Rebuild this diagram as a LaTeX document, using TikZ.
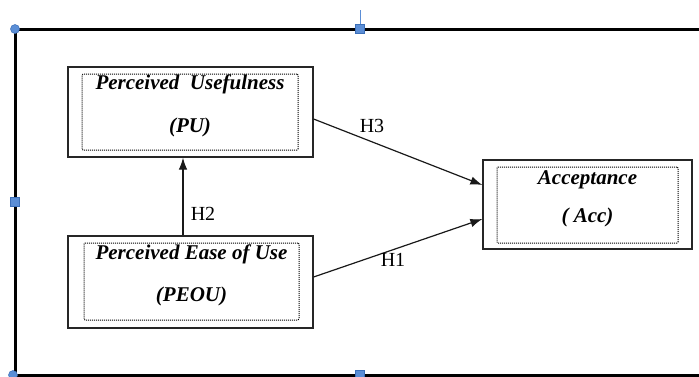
\documentclass[tikz,border=0pt]{standalone}
\usepackage{fontspec}
\setmainfont{Liberation Serif}
\usetikzlibrary{arrows.meta}
\definecolor{handle}{HTML}{5B8ED6}
\definecolor{handleedge}{HTML}{3C6FB8}
\begin{document}
\begin{tikzpicture}[x=1pt,y=-1pt,
  outerbox/.style={draw=black!85,line width=1.2pt,minimum width=#1,inner sep=0pt},
  innerbox/.style={draw=black,densely dotted,line width=1pt,rounded corners=1pt,inner sep=0pt},
  ttl/.style={font=\fontsize{21}{24}\selectfont\bfseries\itshape,inner sep=0pt},
  hlab/.style={font=\fontsize{20}{22}\selectfont,inner sep=0pt},
  arr/.style={draw=black!90,line width=1.2pt,-{Latex[length=12pt,width=8.5pt]}},
  frame/.style={line width=3pt,black},
  hcirc/.style={circle,fill=handle,draw=handleedge,line width=0.5pt,minimum size=9pt,inner sep=0pt},
  hsq/.style={rectangle,fill=handle,draw=handleedge,line width=0.5pt,minimum size=9pt,inner sep=0pt}]
\useasboundingbox (0,0) rectangle (699,376);
% frame
\coordinate (ftl) at (15,29);
\coordinate (fbl) at (15,375);
\coordinate (ftr) at (705,29);
\coordinate (fbr) at (705,375);
\coordinate (tick) at (360,10);
\draw[frame] (ftr) -- (ftl) -- (fbl) -- (fbr);
\draw[handle,line width=1pt] (tick) -- (360,29);
\node[hcirc] (h1) at (ftl) {};
\node[hsq] (h2) at (360,29) {};
\node[hsq] (h3) at (15,202) {};
\node[hcirc] (h4) at (13,375) {};
\node[hsq] (h5) at (360,375) {};
% PU
\node[outerbox=245pt,minimum height=90pt] (pu) at (190.5,112) {};
\node[innerbox,minimum width=216pt,minimum height=76pt] (puin) at (190,112) {};
\node[ttl] (put1) at (190,84) {Perceived\ \ Usefulness};
\node[ttl] (put2) at (190,127) {(PU)};
% PEOU
\node[outerbox=245pt,minimum height=92pt] (peou) at (190.5,282) {};
\node[innerbox,minimum width=215pt,minimum height=77pt] (peouin) at (191.5,281.5) {};
\node[ttl] (pet1) at (191.5,254) {Perceived Ease of Use};
\node[ttl] (pet2) at (191.5,296) {(PEOU)};
% Acc
\node[outerbox=209pt,minimum height=89pt] (acc) at (587.5,204.5) {};
\node[innerbox,minimum width=181pt,minimum height=76pt] (accin) at (587.5,205) {};
\node[ttl] (act1) at (587.5,180) {Acceptance};
\node[ttl] (act2) at (587.5,217) {( Acc)};
% arrows
\draw[arr] ([yshift=-7pt]pu.east) -- ([yshift=19.5pt]acc.west);
\draw[arr] ([yshift=5pt]peou.east) -- ([yshift=-14.5pt]acc.west);
\draw[arr] ([xshift=-7.5pt]peou.north) -- ([xshift=-7.5pt]pu.south);
\node[hlab] (lh3) at (372,126) {H3};
\node[hlab] (lh1) at (393,260) {H1};
\node[hlab] (lh2) at (203,214) {H2};
\end{tikzpicture}
\end{document}
